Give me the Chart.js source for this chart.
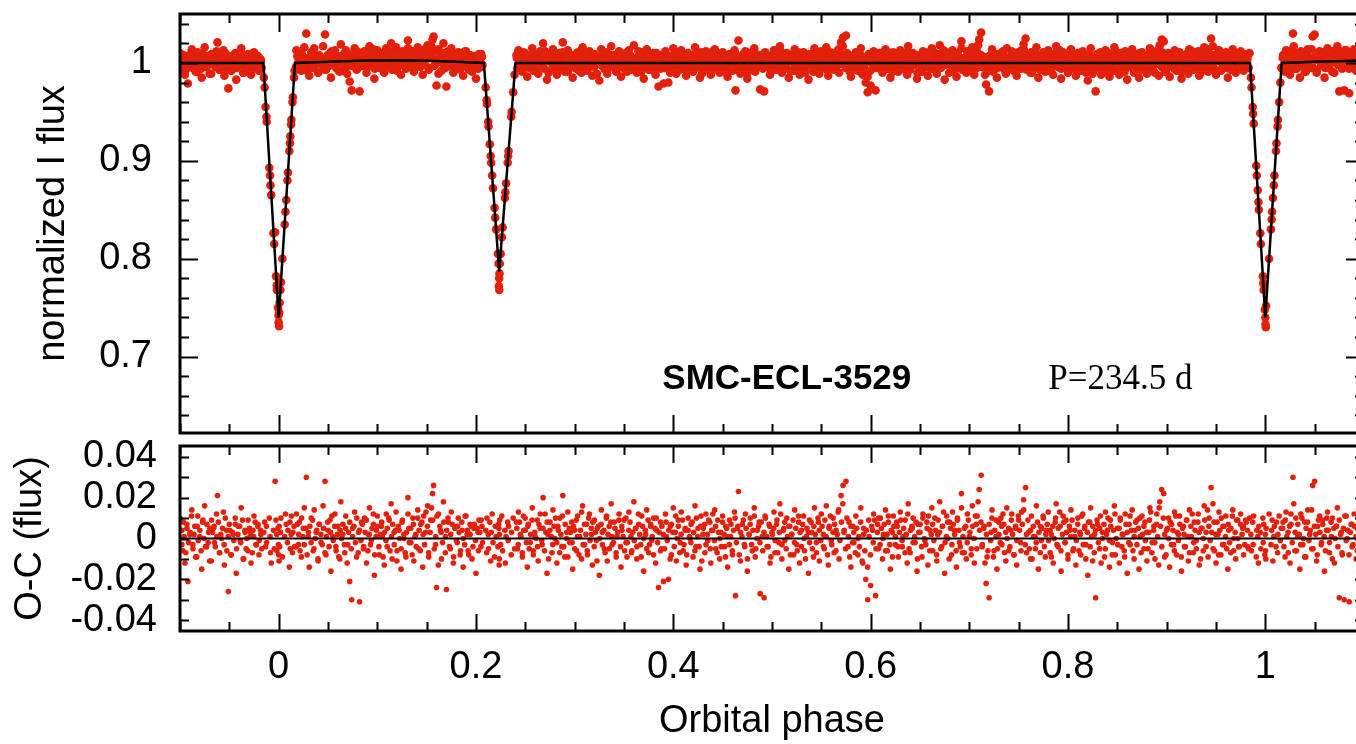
<!DOCTYPE html>
<html>
<head>
<meta charset="utf-8">
<script src="https://cdn.jsdelivr.net/npm/chart.js@4.4.0/dist/chart.umd.min.js"></script>
<style>
  html, body { margin: 0; padding: 0; background: #fff; overflow: hidden; }
  .wrap { position: relative; width: 1356px; height: 744px; overflow: hidden; background: #fff; }
  canvas { position: absolute; left: 0; }
  #fluxChart { top: 0; }
  #ocChart { top: 440px; }
</style>
</head>
<body>
<div class="wrap">
  <canvas id="fluxChart" width="1372" height="446"></canvas>
  <canvas id="ocChart" width="1372" height="304"></canvas>
</div>
<script>
// first group of observations: orbital phase, normalized flux, O-C
const phase = [
  -0.100,-0.098,-0.097,-0.095,-0.093,-0.092,-0.090,-0.088,-0.087,-0.085,
  -0.083,-0.082,-0.080,-0.078,-0.077,-0.075,-0.073,-0.071,-0.070,-0.068,
  -0.066,-0.065,-0.063,-0.062,-0.060,-0.058,-0.056,-0.055,-0.053,-0.051,
  -0.050,-0.048,-0.046,-0.044,-0.043,-0.041,-0.039,-0.038,-0.036,-0.034,
  -0.033,-0.031,-0.029,-0.028,-0.026,-0.025,-0.023,-0.021,-0.020,-0.018,
  -0.0150,-0.0142,-0.0133,-0.0124,-0.0121,-0.0095,-0.0087,-0.0083,-0.0075,-0.0053,
  -0.0045,-0.0027,-0.0019,-0.0018,-0.0036,-0.0007,-0.0002,0.0000,0.0004,0.0006,
  0.0010,0.0018,0.0023,0.0038,0.0061,0.0069,0.0077,0.0089,0.0094,0.0108,
  0.0114,0.0118,0.0126,0.0129,0.0140,0.0144,0.0156,0.0161,
  0.018,0.020,0.021,0.023,0.025,0.026,0.028,0.030,0.031,0.033,
  0.035,0.036,0.038,0.040,0.041,0.043,0.045,0.047,0.048,0.050,
  0.052,0.053,0.055,0.057,0.058,0.060,0.062,0.063,0.065,0.067,
  0.068,0.070,0.072,0.074,0.075,0.077,0.079,0.081,0.082,0.084,
  0.086,0.087,0.089,0.091,0.092,0.094,0.096,0.097,0.099,0.100,
  0.102,0.104,0.105,0.107,0.109,0.110,0.112,0.114,0.115,0.117,
  0.119,0.120,0.122,0.124,0.125,0.127,0.129,0.131,0.132,0.134,
  0.136,0.137,0.139,0.141,0.142,0.144,0.146,0.147,0.149,0.151,
  0.152,0.154,0.156,0.157,0.159,0.160,0.162,0.164,0.165,0.167,
  0.169,0.170,0.172,0.174,0.175,0.177,0.179,0.181,0.182,0.184,
  0.186,0.187,0.189,0.191,0.192,0.194,0.196,0.198,0.200,0.202,
  0.203,0.205,0.206,0.2098,0.2108,0.2111,0.2124,0.2127,0.2140,0.2149,
  0.2154,0.2164,0.2173,0.2188,0.2195,0.2204,0.2222,0.2229,0.2235,0.2232,
  0.2236,0.2238,0.2241,0.2250,0.2262,0.2270,0.2293,0.2298,0.2305,0.2321,
  0.2326,0.2330,0.2357,0.2361,0.2377,0.2391,0.241,0.242,0.243,0.245,
  0.247,0.248,0.250,0.252,0.253,0.255,0.257,0.258,0.260,0.262,
  0.263,0.265,0.267,0.268,0.270,0.272,0.273,0.275,0.277,0.278,
  0.280,0.282,0.283,0.285,0.287,0.288,0.290,0.292,0.293,0.295,
  0.297,0.298,0.300,0.302,0.303,0.305,0.307,0.308,0.310,0.312,
  0.313,0.315,0.317,0.318,0.320,0.322,0.323,0.325,0.327,0.328,
  0.330,0.332,0.333,0.335,0.337,0.338,0.340,0.342,0.343,0.345,
  0.347,0.348,0.350,0.352,0.353,0.355,0.357,0.358,0.360,0.362,
  0.363,0.365,0.367,0.368,0.370,0.372,0.373,0.375,0.377,0.378,
  0.380,0.382,0.383,0.385,0.387,0.388,0.390,0.392,0.393,0.395,
  0.397,0.398,0.400,0.402,0.403,0.405,0.407,0.408,0.410,0.412,
  0.413,0.415,0.417,0.418,0.420,0.422,0.423,0.425,0.427,0.428,
  0.430,0.432,0.433,0.435,0.437,0.438,0.440,0.442,0.443,0.445,
  0.447,0.448,0.450,0.452,0.453,0.455,0.457,0.458,0.460,0.462,
  0.463,0.465,0.466,0.468,0.470,0.472,0.473,0.475,0.477,0.478,
  0.480,0.482,0.483,0.485,0.487,0.488,0.490,0.492,0.493,0.495,
  0.497,0.498,0.500,0.502,0.503,0.505,0.507,0.508,0.510,0.512,
  0.513,0.515,0.517,0.518,0.520,0.522,0.523,0.525,0.527,0.528,
  0.530,0.532,0.533,0.535,0.537,0.538,0.540,0.542,0.543,0.545,
  0.547,0.548,0.550,0.552,0.553,0.555,0.557,0.558,0.560,0.562,
  0.563,0.565,0.567,0.568,0.570,0.572,0.573,0.575,0.577,0.578,
  0.580,0.582,0.583,0.585,0.587,0.588,0.590,0.592,0.593,0.595,
  0.597,0.598,0.600,0.602,0.603,0.605,0.607,0.608,0.610,0.612,
  0.613,0.615,0.617,0.618,0.620,0.622,0.623,0.625,0.627,0.628,
  0.630,0.632,0.633,0.635,0.637,0.638,0.640,0.642,0.643,0.645,
  0.647,0.648,0.650,0.652,0.653,0.655,0.657,0.658,0.660,0.662,
  0.663,0.665,0.667,0.668,0.670,0.672,0.673,0.675,0.677,0.678,
  0.680,0.682,0.683,0.685,0.687,0.688,0.690,0.692,0.693,0.695,
  0.697,0.698,0.700,0.702,0.703,0.705,0.707,0.708,0.710,0.712,
  0.713,0.715,0.717,0.718,0.720,0.722,0.723,0.725,0.727,0.728,
  0.730,0.732,0.733,0.735,0.737,0.738,0.740,0.742,0.743,0.745,
  0.747,0.748,0.750,0.752,0.753,0.755,0.757,0.758,0.760,0.762,
  0.763,0.765,0.767,0.768,0.770,0.772,0.773,0.775,0.777,0.778,
  0.780,0.782,0.783,0.785,0.787,0.788,0.790,0.792,0.793,0.795,
  0.797,0.798,0.800,0.802,0.803,0.805,0.807,0.808,0.810,0.812,
  0.813,0.815,0.817,0.818,0.820,0.822,0.823,0.825,0.827,0.828,
  0.830,0.832,0.833,0.835,0.837,0.838,0.840,0.842,0.843,0.845,
  0.847,0.848,0.850,0.852,0.853,0.855,0.857,0.858,0.860,0.862,
  0.863,0.865,0.867,0.868,0.870,0.872,0.873,0.875,0.877,0.878,
  0.880,0.882,0.883,0.885,0.887,0.888,0.890,0.892,0.893,0.895,
  0.897,0.898,0.900,0.902,0.903,0.905,0.907,0.908,0.910,0.912,
  0.913,0.915,0.917,0.918,0.920,0.922,0.923,0.925,0.927,0.928,
  0.930,0.932,0.933,0.935,0.937,0.938,0.940,0.942,0.943,0.945,
  0.947,0.948,0.950,0.952,0.953,0.955,0.957,0.958,0.960,0.962,
  0.963,0.965,0.967,0.968,0.970,0.972,0.973,0.975,0.977,0.978,
  0.980,0.982,0.9840,0.9854,0.9860,0.9872,0.9876,0.9882,0.9908,0.9914,
  0.9923,0.9930,0.9934,0.9949,0.9955,0.9975,0.9979,0.9983,0.9995,1.0000,
  1.0002,1.0005,1.0008,1.0038,1.0057,1.0064,1.0069,1.0077,1.0086,1.0092,
  1.0108,1.0113,1.0124,1.0128,1.0140,1.0152,1.0162,1.018,1.020,1.021,
  1.023,1.025,1.026,1.028,1.030,1.031,1.033,1.035,1.036,1.038,
  1.040,1.041,1.043,1.045,1.047,1.048,1.050,1.052,1.053,1.055,
  1.057,1.058,1.060,1.062,1.063,1.065,1.067,1.068,1.070,1.072,
  1.073,1.075,1.077,1.078,1.080,1.082,1.083,1.085,1.087,1.088,
  1.090,1.092,1.093,1.095,1.097,1.098,1.100
];

const flux = [
  1.010,1.004,0.994,0.988,1.007,0.979,1.002,1.014,0.997,1.006,
  0.991,1.011,1.001,0.985,1.008,1.016,0.996,1.003,0.989,1.009,
  1.005,0.998,1.012,1.021,0.993,1.000,1.013,0.987,1.004,0.974,
  1.007,0.992,1.002,1.010,0.983,1.006,0.999,1.015,0.990,1.003,
  0.995,1.009,1.001,0.988,1.004,1.011,0.997,1.007,0.992,1.002,
  0.985,0.975,0.955,0.945,0.940,0.893,0.885,0.875,0.865,0.826,
  0.815,0.782,0.773,0.768,0.827,0.750,0.742,0.735,0.731,0.745,
  0.755,0.768,0.776,0.800,0.835,0.848,0.860,0.880,0.888,0.910,
  0.918,0.925,0.937,0.942,0.960,0.965,0.985,0.992,
  1.013,0.998,1.009,0.992,1.006,1.016,1.030,1.002,0.987,1.011,
  0.995,1.015,1.004,0.990,1.008,0.999,1.017,1.029,0.993,1.005,
  1.010,0.985,1.002,1.013,0.997,1.007,0.991,1.019,1.003,0.994,
  1.013,0.999,0.981,0.972,1.007,1.015,0.993,1.005,0.971,1.010,
  0.997,1.012,0.990,1.004,1.017,1.001,1.009,0.984,1.006,1.013,
  0.995,1.009,1.004,0.990,1.015,0.999,1.012,1.020,0.993,1.006,
  1.016,0.997,1.007,0.988,1.011,1.003,0.994,1.023,1.008,1.001,
  1.012,0.991,1.004,1.016,0.997,1.009,0.988,1.013,1.005,1.018,
  0.995,1.011,1.024,1.027,0.999,0.977,1.014,1.006,0.992,1.020,
  1.003,0.976,1.010,0.997,1.015,0.990,1.008,1.000,1.011,0.993,
  1.005,0.987,1.012,1.003,0.995,1.008,0.991,1.006,0.984,1.004,
  1.009,0.996,1.006,0.975,0.962,0.958,0.940,0.935,0.917,0.905,
  0.898,0.885,0.872,0.852,0.842,0.830,0.805,0.795,0.780,0.772,
  0.768,0.785,0.795,0.805,0.822,0.832,0.862,0.868,0.877,0.898,
  0.905,0.910,0.945,0.950,0.970,0.988,1.008,0.995,1.013,1.002,
  0.991,1.011,1.004,0.986,1.007,0.998,1.015,0.994,1.001,1.009,
  0.989,1.005,0.997,1.020,1.012,0.983,1.002,1.008,0.993,1.014,
  1.000,0.988,1.006,1.010,0.996,1.021,0.991,1.003,1.013,0.998,
  1.008,0.985,1.004,0.994,1.011,1.001,0.990,1.016,0.997,1.007,
  0.992,1.012,1.002,0.987,1.009,0.999,1.005,0.982,1.014,1.003,
  0.995,1.010,0.989,1.006,1.017,0.997,1.008,0.993,1.001,1.012,
  0.986,1.004,1.009,0.998,0.991,1.013,1.001,0.994,1.018,1.005,
  0.990,1.007,0.997,1.011,0.984,1.002,1.014,0.993,1.006,0.999,
  1.010,0.988,1.004,0.976,1.008,0.995,0.979,1.012,1.001,0.980,
  1.006,0.992,1.015,1.003,0.989,1.009,0.998,1.013,0.994,1.004,
  0.987,1.010,1.000,1.007,0.991,1.016,0.996,1.005,0.985,1.011,
  1.002,0.993,1.012,0.999,1.008,0.988,1.004,1.014,0.995,1.009,
  0.990,1.003,1.011,0.996,1.006,0.986,1.009,1.001,0.992,1.013,
  0.972,1.005,1.023,0.989,1.007,0.997,1.012,0.984,1.002,1.010,
  0.994,1.015,0.991,1.004,1.008,0.973,1.001,0.971,1.011,0.996,
  1.007,0.988,1.003,1.013,0.993,1.009,0.998,1.017,0.990,1.005,
  0.999,1.010,0.985,1.006,1.002,0.992,1.014,0.997,1.008,0.988,
  1.004,1.011,0.994,1.001,0.983,1.009,1.003,0.991,1.015,0.998,
  1.008,0.989,1.012,1.002,0.995,1.016,0.987,1.006,0.999,1.010,
  0.993,1.004,1.013,0.990,1.021,1.026,1.003,1.028,0.996,1.008,
  0.986,1.006,0.998,1.011,0.992,1.001,1.015,0.988,1.005,0.980,
  0.970,1.009,0.977,1.004,1.012,0.972,1.007,0.995,1.010,0.990,
  1.002,1.014,0.994,1.008,0.985,1.003,1.011,0.997,1.006,0.991,
  1.013,0.996,1.001,1.009,0.988,1.017,0.993,1.005,1.010,0.998,
  0.984,1.007,1.003,0.991,1.012,0.999,1.008,0.987,1.004,1.015,
  0.994,1.010,0.989,1.002,1.018,0.996,1.006,0.983,1.011,1.000,
  1.008,0.992,1.013,1.004,0.986,1.009,0.998,1.022,0.993,1.005,
  0.990,1.012,1.001,0.995,1.016,0.988,1.007,1.011,1.024,1.031,
  0.996,1.006,0.978,0.991,0.971,1.003,1.014,0.994,1.009,0.985,
  1.002,1.010,0.997,1.007,0.989,1.015,0.994,1.004,1.012,0.992,
  1.005,0.987,1.009,0.998,1.013,1.019,1.025,0.993,1.003,0.990,
  1.011,1.001,0.995,1.016,0.985,1.006,0.999,1.010,0.991,1.004,
  1.013,0.993,1.002,0.988,1.008,1.017,0.996,1.006,0.984,1.011,
  0.998,1.009,0.990,1.004,1.014,0.994,1.001,0.987,1.010,1.003,
  0.992,1.012,1.006,0.997,0.982,1.008,1.015,0.989,1.002,0.971,
  1.007,0.995,1.011,1.000,0.991,1.013,1.004,0.986,1.009,0.998,
  1.016,0.992,1.005,0.988,1.010,1.002,0.994,1.012,0.983,1.007,
  0.997,1.014,0.990,1.004,1.009,0.985,1.001,1.011,0.995,1.008,
  0.989,1.003,1.015,0.993,1.006,0.998,1.012,0.987,1.018,1.024,
  1.022,0.991,1.004,1.010,0.986,1.007,0.997,1.013,0.992,1.002,
  1.011,0.984,1.006,0.996,1.009,0.989,1.014,1.001,0.993,1.008,
  0.999,1.012,0.987,1.005,0.994,1.016,1.003,0.991,1.010,1.025,
  0.995,1.008,0.988,1.002,1.013,0.992,1.006,0.997,1.011,0.985,
  1.004,0.993,1.014,1.000,0.990,1.009,0.996,1.012,1.005,0.992,
  1.009,0.996,1.010,0.985,0.975,0.955,0.948,0.938,0.895,0.885,
  0.870,0.858,0.850,0.826,0.815,0.782,0.775,0.768,0.748,0.740,
  0.733,0.730,0.752,0.800,0.830,0.840,0.848,0.862,0.875,0.885,
  0.910,0.918,0.935,0.942,0.960,0.980,0.995,1.008,0.991,1.013,
  1.003,0.988,1.007,1.030,0.994,1.010,1.001,0.985,1.012,0.997,
  1.008,0.991,1.014,1.002,0.995,1.027,1.029,0.990,1.007,1.012,
  0.999,1.011,0.985,1.006,1.015,0.995,1.003,1.012,0.990,1.008,
  1.017,0.971,1.005,0.994,0.972,1.013,1.002,0.969,1.009,0.998,
  1.014,0.992,1.007,0.999,1.011,0.988,1.004
];

const oc = [
  0.010,0.004,-0.006,-0.012,0.007,-0.021,0.002,0.014,-0.003,0.006,
  -0.009,0.011,0.001,-0.015,0.008,0.016,-0.004,0.003,-0.011,0.009,
  0.005,-0.002,0.012,0.021,-0.007,0.000,0.013,-0.013,0.004,-0.026,
  0.007,-0.008,0.002,0.010,-0.017,0.006,-0.001,0.015,-0.010,0.003,
  -0.005,0.009,0.001,-0.012,0.004,0.011,-0.003,0.007,-0.008,0.002,
  0.003,0.008,-0.004,0.006,-0.002,0.010,0.001,-0.007,-0.012,0.004,
  -0.005,0.009,0.002,-0.006,0.028,0.005,-0.003,-0.008,-0.011,0.006,
  -0.004,0.003,0.010,-0.009,0.001,0.012,0.007,-0.002,0.004,-0.014,
  0.008,-0.005,0.002,0.011,-0.007,0.003,0.006,-0.004,
  0.012,-0.003,0.008,-0.009,0.005,0.015,0.030,0.001,-0.014,0.010,
  -0.006,0.014,0.003,-0.011,0.007,-0.002,0.016,0.028,-0.008,0.004,
  0.009,-0.016,0.001,0.012,-0.004,0.006,-0.010,0.018,0.002,-0.007,
  0.011,-0.003,-0.021,-0.030,0.005,0.013,-0.009,0.003,-0.031,0.008,
  -0.005,0.010,-0.012,0.002,0.015,-0.001,0.007,-0.018,0.004,0.011,
  -0.008,0.006,0.001,-0.013,0.012,-0.004,0.009,0.017,-0.010,0.003,
  0.013,-0.006,0.004,-0.015,0.008,0.000,-0.009,0.020,0.005,-0.002,
  0.010,-0.011,0.002,0.014,-0.005,0.007,-0.014,0.011,0.003,0.016,
  -0.007,0.009,0.022,0.026,-0.003,-0.024,0.012,0.004,-0.010,0.018,
  0.001,-0.025,0.008,-0.005,0.013,-0.012,0.006,-0.002,0.010,-0.008,
  0.004,-0.014,0.011,0.002,-0.006,0.007,-0.010,0.005,-0.017,0.003,
  0.009,-0.004,0.006,0.004,-0.007,0.010,0.002,-0.005,0.008,-0.011,
  0.003,0.012,-0.002,-0.009,0.006,0.001,-0.004,0.007,-0.013,0.005,
  -0.010,0.002,0.009,-0.003,0.011,-0.006,0.004,-0.012,0.001,0.008,
  -0.001,0.006,-0.008,0.003,0.010,-0.005,0.008,-0.005,0.013,0.002,
  -0.009,0.011,0.004,-0.014,0.007,-0.002,0.015,-0.006,0.001,0.009,
  -0.011,0.005,-0.003,0.020,0.012,-0.017,0.002,0.008,-0.007,0.014,
  0.000,-0.012,0.006,0.010,-0.004,0.021,-0.009,0.003,0.013,-0.002,
  0.008,-0.015,0.004,-0.006,0.011,0.001,-0.010,0.016,-0.003,0.007,
  -0.008,0.012,0.002,-0.013,0.009,-0.001,0.005,-0.018,0.014,0.003,
  -0.005,0.010,-0.011,0.006,0.017,-0.003,0.008,-0.007,0.001,0.012,
  -0.014,0.004,0.009,-0.002,-0.009,0.013,0.001,-0.006,0.018,0.005,
  -0.010,0.007,-0.003,0.011,-0.016,0.002,0.014,-0.007,0.006,-0.001,
  0.010,-0.012,0.004,-0.024,0.008,-0.005,-0.021,0.012,0.001,-0.020,
  0.006,-0.008,0.015,0.003,-0.011,0.009,-0.002,0.013,-0.006,0.004,
  -0.013,0.010,0.000,0.007,-0.009,0.016,-0.004,0.005,-0.015,0.011,
  0.002,-0.007,0.012,-0.001,0.008,-0.012,0.004,0.014,-0.005,0.009,
  -0.010,0.003,0.011,-0.004,0.006,-0.014,0.009,0.001,-0.008,0.013,
  -0.028,0.005,0.023,-0.011,0.007,-0.003,0.012,-0.016,0.002,0.010,
  -0.006,0.015,-0.009,0.004,0.008,-0.027,0.001,-0.029,0.011,-0.004,
  0.007,-0.012,0.003,0.013,-0.007,0.009,-0.002,0.017,-0.010,0.005,
  -0.001,0.010,-0.015,0.006,0.002,-0.008,0.014,-0.003,0.008,-0.012,
  0.004,0.011,-0.006,0.001,-0.017,0.009,0.003,-0.009,0.015,-0.002,
  0.008,-0.011,0.012,0.002,-0.005,0.016,-0.013,0.006,-0.001,0.010,
  -0.007,0.004,0.013,-0.010,0.021,0.026,0.003,0.028,-0.004,0.008,
  -0.014,0.006,-0.002,0.011,-0.008,0.001,0.015,-0.012,0.005,-0.020,
  -0.030,0.009,-0.023,0.004,0.012,-0.028,0.007,-0.005,0.010,-0.010,
  0.002,0.014,-0.006,0.008,-0.015,0.003,0.011,-0.003,0.006,-0.009,
  0.013,-0.004,0.001,0.009,-0.012,0.017,-0.007,0.005,0.010,-0.002,
  -0.016,0.007,0.003,-0.009,0.012,-0.001,0.008,-0.013,0.004,0.015,
  -0.006,0.010,-0.011,0.002,0.018,-0.004,0.006,-0.017,0.011,0.000,
  0.008,-0.008,0.013,0.004,-0.014,0.009,-0.002,0.022,-0.007,0.005,
  -0.010,0.012,0.001,-0.005,0.016,-0.012,0.007,0.011,0.024,0.031,
  -0.004,0.006,-0.022,-0.009,-0.029,0.003,0.014,-0.006,0.009,-0.015,
  0.002,0.010,-0.003,0.007,-0.011,0.015,-0.006,0.004,0.012,-0.008,
  0.005,-0.013,0.009,-0.002,0.013,0.019,0.025,-0.007,0.003,-0.010,
  0.011,0.001,-0.005,0.016,-0.015,0.006,-0.001,0.010,-0.009,0.004,
  0.013,-0.007,0.002,-0.012,0.008,0.017,-0.004,0.006,-0.016,0.011,
  -0.002,0.009,-0.010,0.004,0.014,-0.006,0.001,-0.013,0.010,0.003,
  -0.008,0.012,0.006,-0.003,-0.018,0.008,0.015,-0.011,0.002,-0.029,
  0.007,-0.005,0.011,0.000,-0.009,0.013,0.004,-0.014,0.009,-0.002,
  0.016,-0.008,0.005,-0.012,0.010,0.002,-0.006,0.012,-0.017,0.007,
  -0.003,0.014,-0.010,0.004,0.009,-0.015,0.001,0.011,-0.005,0.008,
  -0.011,0.003,0.015,-0.007,0.006,-0.002,0.012,-0.013,0.018,0.024,
  0.022,-0.009,0.004,0.010,-0.014,0.007,-0.003,0.013,-0.008,0.002,
  0.011,-0.016,0.006,-0.004,0.009,-0.011,0.014,0.001,-0.007,0.008,
  -0.001,0.012,-0.013,0.005,-0.006,0.016,0.003,-0.009,0.010,0.025,
  -0.005,0.008,-0.012,0.002,0.013,-0.008,0.006,-0.003,0.011,-0.015,
  0.004,-0.007,0.014,0.000,-0.010,0.009,-0.004,0.012,0.005,-0.008,
  0.009,-0.004,0.010,0.002,-0.006,0.008,-0.003,0.011,-0.009,0.004,
  0.001,-0.012,0.006,0.003,-0.005,0.010,-0.002,0.007,-0.008,0.002,
  -0.006,-0.010,0.005,0.012,-0.003,0.004,0.009,-0.011,0.001,0.006,
  -0.004,0.008,-0.007,0.002,0.011,-0.001,0.005,0.008,-0.009,0.013,
  0.003,-0.012,0.007,0.030,-0.006,0.010,0.001,-0.015,0.012,-0.003,
  0.008,-0.009,0.014,0.002,-0.005,0.026,0.028,-0.011,0.006,0.011,
  -0.002,0.009,-0.016,0.004,0.013,-0.007,0.001,0.010,-0.012,0.006,
  0.015,-0.029,0.003,-0.008,-0.030,0.011,0.000,-0.031,0.007,-0.004,
  0.012,-0.010,0.005,-0.003,0.009,-0.014,0.002
];

// second group of observations (out of eclipse)
const phaseB = [
  -0.0994,-0.0981,-0.0966,-0.0958,-0.0941,-0.0929,-0.0913,-0.0897,-0.0884,-0.0869,
  -0.0858,-0.0841,-0.0826,-0.0815,-0.0799,-0.0786,-0.0768,-0.0755,-0.0742,-0.0728,
  -0.0714,-0.0697,-0.0683,-0.0671,-0.0654,-0.0642,-0.0627,-0.0611,-0.0598,-0.0586,
  -0.0569,-0.0553,-0.0541,-0.0525,-0.0512,-0.0497,-0.0484,-0.0468,-0.0455,-0.0439,
  -0.0426,-0.0413,-0.0396,-0.0384,-0.0367,-0.0354,-0.0341,-0.0325,-0.0312,-0.0296,
  -0.0283,-0.0267,-0.0254,-0.0238,-0.0226,-0.0211,-0.0197,-0.0184,-0.0172,
  0.0176,0.0189,0.0203,0.0217,0.0232,0.0246,0.0259,0.0273,0.0288,0.0302,
  0.0316,0.0329,0.0344,0.0358,0.0371,0.0386,0.0399,0.0413,0.0428,0.0442,
  0.0455,0.0469,0.0484,0.0497,0.0511,0.0526,0.0539,0.0553,0.0567,0.0582,
  0.0596,0.0609,0.0623,0.0638,0.0651,0.0666,0.0679,0.0694,0.0708,0.0721,
  0.0736,0.0749,0.0763,0.0778,0.0792,0.0806,0.0819,0.0834,0.0848,0.0861,
  0.0876,0.0889,0.0904,0.0918,0.0931,0.0946,0.0959,0.0973,0.0988,
  0.1002,0.1016,0.1031,0.1044,0.1058,0.1073,0.1087,0.1101,0.1114,0.1129,
  0.1143,0.1156,0.1171,0.1185,0.1198,0.1213,0.1227,0.1241,0.1254,0.1269,
  0.1283,0.1296,0.1311,0.1324,0.1339,0.1353,0.1366,0.1381,0.1394,0.1409,
  0.1423,0.1436,0.1451,0.1464,0.1479,0.1493,0.1507,0.1521,0.1535,0.1549,
  0.1562,0.1577,0.1591,0.1604,0.1619,0.1633,0.1646,0.1661,0.1674,0.1689,
  0.1703,0.1716,0.1731,0.1744,0.1759,0.1773,0.1786,0.1801,0.1814,0.1829,
  0.1843,0.1856,0.1871,0.1885,0.1898,0.1913,0.1927,0.1941,0.1954,0.1969,
  0.1983,0.1996,0.2011,0.2024,0.2039,0.2053,0.2066,
  0.2414,0.2428,0.2441,0.2456,0.2469,0.2484,0.2498,0.2511,0.2526,0.2539,
  0.2554,0.2568,0.2581,0.2596,0.2609,0.2624,0.2638,0.2651,0.2666,0.2679,
  0.2694,0.2708,0.2721,0.2736,0.2749,0.2764,0.2778,0.2791,0.2806,0.2819,
  0.2834,0.2848,0.2861,0.2876,0.2889,0.2904,0.2918,0.2931,0.2946,0.2959,
  0.2974,0.2988,0.3001,0.3016,0.3029,0.3044,0.3058,0.3071,0.3086,0.3099,
  0.3114,0.3128,0.3141,0.3156,0.3169,0.3184,0.3198,0.3211,0.3226,0.3239,
  0.3254,0.3268,0.3281,0.3296,0.3309,0.3324,0.3338,0.3351,0.3366,0.3379,
  0.3394,0.3408,0.3421,0.3436,0.3449,0.3464,
  0.3478,0.3491,0.3506,0.3519,0.3534,0.3548,0.3561,0.3576,0.3589,0.3604,
  0.3618,0.3631,0.3646,0.3659,0.3674,0.3688,0.3701,0.3716,0.3729,0.3744,
  0.3758,0.3771,0.3786,0.3799,0.3814,0.3828,0.3841,0.3856,0.3869,0.3884,
  0.3898,0.3911,0.3926,0.3939,0.3954,0.3968,0.3981,0.3996,0.4009,0.4024,
  0.4038,0.4051,0.4066,0.4079,0.4094,0.4108,0.4121,0.4136,0.4149,0.4164,
  0.4178,0.4191,0.4206,0.4219,0.4234,0.4248,0.4261,0.4276,0.4289,0.4304,
  0.4318,0.4331,0.4346,0.4359,0.4374,0.4388,0.4401,0.4416,0.4429,0.4444,
  0.4458,0.4471,0.4486,0.4499,0.4514,0.4528,0.4541,0.4556,0.4569,0.4584,
  0.4598,0.4611,0.4626,0.4639,0.4654,0.4668,0.4681,0.4696,0.4709,0.4724,
  0.4738,0.4751,0.4766,0.4779,0.4794,0.4808,0.4821,0.4836,0.4849,0.4864,
  0.4878,0.4891,0.4906,0.4919,0.4934,0.4948,0.4961,0.4976,0.4989,0.5004,
  0.5018,0.5031,0.5046,0.5059,0.5074,0.5088,0.5101,0.5116,0.5129,0.5144,
  0.5158,0.5171,0.5186,0.5199,0.5214,0.5228,0.5241,0.5256,0.5269,0.5284,
  0.5298,0.5311,0.5326,0.5339,0.5354,0.5368,0.5381,0.5396,0.5409,0.5424,
  0.5438,0.5451,0.5466,0.5479,0.5494,0.5508,0.5521,0.5536,0.5549,0.5564,
  0.5578,0.5591,0.5606,0.5619,0.5634,0.5648,0.5661,0.5676,0.5689,0.5704,
  0.5718,0.5731,0.5746,0.5759,0.5774,0.5788,0.5801,0.5816,0.5829,0.5844,
  0.5858,0.5871,0.5886,0.5899,0.5914,0.5928,0.5941,0.5956,0.5969,0.5984,
  0.5998,0.6011,0.6026,0.6039,0.6054,0.6068,0.6081,0.6096,0.6109,0.6124,
  0.6138,0.6151,0.6166,0.6179,0.6194,0.6208,0.6221,0.6236,0.6249,0.6264,
  0.6278,0.6291,0.6306,0.6319,0.6334,0.6348,0.6361,0.6376,0.6389,0.6404,
  0.6418,0.6431,0.6446,0.6459,0.6474,0.6488,0.6501,0.6516,0.6529,0.6544,
  0.6558,0.6571,0.6586,0.6599,0.6614,0.6628,0.6641,0.6656,0.6669,0.6684,
  0.6698,0.6711,0.6726,0.6739,0.6754,0.6768,0.6781,0.6796,0.6809,0.6824,
  0.6838,0.6851,0.6866,0.6879,0.6894,0.6908,0.6921,0.6936,0.6949,0.6964,
  0.6978,0.6991,0.7006,0.7019,0.7034,0.7048,0.7061,0.7076,0.7089,0.7104,
  0.7118,0.7131,0.7146,0.7159,0.7174,0.7188,0.7201,0.7216,0.7229,0.7244,
  0.7258,0.7271,0.7286,0.7299,0.7314,0.7328,0.7341,0.7356,0.7369,0.7384,
  0.7398,0.7411,0.7426,0.7439,0.7454,0.7468,0.7481,0.7496,0.7509,0.7524,
  0.7538,0.7551,0.7566,0.7579,0.7594,0.7608,0.7621,0.7636,0.7649,0.7664,
  0.7678,0.7691,0.7706,0.7719,0.7734,0.7748,0.7761,0.7776,0.7789,0.7804,
  0.7818,0.7831,0.7846,0.7859,0.7874,0.7888,0.7901,0.7916,0.7929,0.7944,
  0.7958,0.7971,0.7986,0.7999,0.8014,0.8028,0.8041,0.8056,0.8069,0.8084,
  0.8098,0.8111,0.8126,0.8139,0.8154,0.8168,0.8181,0.8196,0.8209,0.8224,
  0.8238,0.8251,0.8266,0.8279,0.8294,0.8308,0.8321,0.8336,0.8349,0.8364,
  0.8378,0.8391,0.8406,0.8419,0.8434,0.8448,0.8461,0.8476,0.8489,0.8504,
  0.8518,0.8531,0.8546,0.8559,0.8574,0.8588,0.8601,0.8616,0.8629,0.8644,
  0.8658,0.8671,0.8686,0.8699,0.8714,0.8728,0.8741,0.8756,0.8769,0.8784,
  0.8798,0.8811,0.8826,0.8839,0.8854,0.8868,0.8881,0.8896,0.8909,0.8924,
  0.8938,0.8951,0.8966,0.8979,0.8994,0.9008,0.9021,0.9036,0.9049,0.9064,
  0.9078,0.9091,0.9106,0.9119,0.9134,0.9148,0.9161,0.9176,0.9189,0.9204,
  0.9218,0.9231,0.9246,0.9259,0.9274,0.9288,0.9301,0.9316,0.9329,0.9344,
  0.9358,0.9371,0.9386,0.9399,0.9414,0.9428,0.9441,0.9456,0.9469,0.9484,
  0.9498,0.9511,0.9526,0.9539,0.9554,0.9568,0.9581,0.9596,0.9609,0.9624,
  0.9638,0.9651,0.9666,0.9679,0.9694,0.9708,0.9721,0.9736,0.9749,0.9764,
  0.9778,0.9791,0.9806,0.9819,0.9831,
  1.0176,1.0189,1.0203,1.0217,1.0232,1.0246,1.0259,1.0273,1.0288,1.0302,
  1.0316,1.0329,1.0344,1.0358,1.0371,1.0386,1.0399,1.0413,1.0428,1.0442,
  1.0455,1.0469,1.0484,1.0497,1.0511,1.0526,1.0539,1.0553,1.0567,1.0582,
  1.0596,1.0609,1.0623,1.0638,1.0651,1.0666,1.0679,1.0694,1.0708,1.0721,
  1.0736,1.0749,1.0763,1.0778,1.0792,1.0806,1.0819,1.0834,1.0848,1.0861,
  1.0876,1.0889,1.0904,1.0918,1.0931,1.0946,1.0959,1.0973,1.0988
];

const fluxB = [
  1.004,0.997,1.008,1.001,0.993,1.005,0.998,1.003,1.011,0.995,
  1.002,0.991,1.006,0.999,1.004,0.994,1.009,1.000,0.996,1.007,
  0.998,1.005,0.989,1.003,1.006,0.996,1.001,1.008,0.993,1.002,
  1.005,0.997,1.010,0.994,1.001,1.004,0.992,1.003,0.999,1.007,
  0.995,1.002,1.006,0.998,1.009,0.990,1.004,1.000,0.994,1.005,
  1.003,0.993,1.001,1.008,0.997,1.006,0.999,1.004,0.995,
  0.996,1.007,1.002,0.994,1.010,1.001,0.997,1.005,0.992,1.003,
  1.006,0.998,1.009,0.995,1.000,1.004,0.990,1.007,1.002,0.997,
  1.005,0.993,1.001,1.008,0.997,1.004,1.012,1.000,1.007,0.995,
  1.003,0.992,1.005,1.001,1.008,0.998,1.006,0.989,1.004,1.009,
  0.997,1.003,1.008,1.000,1.012,0.995,1.006,1.001,1.009,0.998,
  1.005,1.011,0.996,1.004,0.999,1.007,1.014,0.994,1.003,
  1.008,0.998,1.004,1.010,0.993,1.005,1.001,1.007,1.012,0.996,
  1.004,1.010,1.000,1.007,0.992,1.009,1.003,0.998,1.012,1.005,
  0.996,1.006,1.015,1.001,1.008,0.995,1.010,1.004,0.999,1.012,
  1.006,0.996,1.010,1.004,0.999,1.015,1.008,0.993,1.005,1.017,
  1.011,0.997,1.003,1.013,0.989,1.008,1.005,1.000,1.010,0.995,
  1.006,1.012,0.998,1.004,1.009,0.993,1.007,1.001,1.008,1.005,
  0.995,1.009,1.001,0.998,1.012,1.005,0.993,1.003,1.007,0.997,
  1.007,0.999,1.005,0.994,1.003,1.009,0.998,
  1.005,0.997,1.008,1.001,0.993,1.004,1.010,0.998,1.006,0.995,
  1.002,1.009,0.992,1.003,1.000,0.996,1.007,1.012,0.999,1.005,
  0.994,1.003,1.008,0.990,1.004,1.001,0.997,1.006,1.010,0.998,
  1.004,0.993,1.002,1.011,0.996,1.007,1.000,0.991,1.005,1.003,
  0.998,1.006,0.995,1.009,1.001,0.992,1.004,1.013,0.997,1.007,
  1.002,0.994,1.010,0.999,1.005,1.008,0.996,1.003,0.989,1.006,
  1.000,1.007,0.997,1.004,0.993,1.011,1.002,0.995,1.008,1.001,
  0.998,1.005,0.991,1.003,1.009,0.996,
  1.006,1.001,0.994,1.010,0.998,1.004,1.008,0.993,1.003,0.999,
  1.005,0.996,1.012,1.002,0.991,1.006,1.000,1.004,0.995,1.009,
  0.997,1.007,1.001,0.992,1.005,1.010,0.998,1.003,0.994,1.006,
  1.002,0.995,1.008,0.999,1.004,0.990,1.007,1.003,0.996,1.011,
  1.000,1.006,0.993,1.002,1.009,0.997,1.005,0.992,1.004,1.001,
  0.998,1.008,1.003,0.994,1.010,1.001,0.996,1.006,0.989,1.005,
  1.007,0.997,1.002,1.009,0.995,1.004,1.012,0.999,1.006,0.993,
  1.003,1.000,0.996,1.008,1.002,0.991,1.005,1.001,0.997,1.007,
  0.994,1.004,1.010,0.998,1.006,0.992,1.003,1.001,1.009,0.996,
  1.005,0.990,1.002,1.007,0.997,1.004,1.011,0.995,1.000,1.006,
  0.998,1.008,0.994,1.003,1.010,1.001,0.996,1.006,0.991,1.002,
  1.005,0.999,1.007,0.993,1.003,1.012,0.997,1.004,1.008,0.995,
  1.001,1.006,0.992,1.002,1.009,0.998,1.005,0.994,1.011,1.003,
  0.996,1.007,1.000,0.990,1.005,1.003,0.998,1.008,0.995,1.006,
  1.002,0.993,1.010,1.004,0.999,1.006,0.996,1.009,1.001,0.992,
  1.005,1.011,0.997,1.003,1.007,0.994,1.002,1.014,0.999,1.008,
  1.017,1.004,0.995,1.010,1.001,0.991,1.006,0.998,1.003,0.993,
  1.005,1.000,0.996,1.008,0.989,1.002,0.994,1.004,0.986,1.001,
  0.992,1.006,0.998,1.009,0.995,1.003,1.010,0.997,1.005,1.000,
  1.007,0.994,1.002,1.011,0.997,1.004,0.991,1.006,1.001,1.008,
  0.996,1.003,1.009,0.999,1.005,0.993,1.002,1.012,0.995,1.004,
  1.006,0.998,1.001,1.008,0.990,1.003,1.007,0.996,1.010,1.000,
  0.997,1.005,1.011,0.994,1.002,1.007,0.999,1.004,0.992,1.009,
  1.003,0.995,1.006,1.013,0.998,1.001,1.008,0.990,1.005,0.997,
  1.007,1.002,0.994,1.010,1.004,0.996,1.015,1.001,0.993,1.006,
  0.998,1.009,1.003,0.992,1.006,1.000,1.011,0.995,1.018,1.004,
  1.008,0.997,1.005,0.988,1.002,0.994,1.007,0.999,1.010,0.991,
  1.004,1.001,0.995,1.008,0.998,1.006,1.012,0.993,1.003,1.000,
  1.005,0.996,1.009,1.002,0.992,1.006,0.999,1.011,1.004,0.994,
  1.007,1.014,0.997,1.002,1.009,0.995,1.004,0.990,1.006,1.001,
  0.998,1.008,1.003,0.993,1.005,1.011,0.996,1.002,1.007,0.999,
  1.004,0.991,1.006,1.000,1.010,0.997,1.005,1.013,0.994,1.002,
  1.008,0.998,1.003,0.992,1.006,1.001,1.009,0.995,1.004,0.999,
  1.007,0.994,1.002,1.011,0.997,1.005,0.990,1.003,1.008,0.996,
  1.001,1.006,0.993,1.004,1.009,0.998,1.005,0.988,1.003,1.007,
  0.995,1.002,1.010,0.999,1.006,0.992,1.004,1.012,1.000,0.997,
  1.005,1.009,0.996,1.002,0.991,1.007,1.003,0.998,1.011,1.004,
  0.994,1.001,1.008,0.997,1.005,1.010,0.993,1.002,1.006,0.999,
  1.003,0.995,1.009,1.013,0.998,1.004,0.990,1.007,1.001,1.015,
  1.006,0.996,1.010,1.002,0.992,1.005,1.000,1.008,0.997,1.004,
  0.994,1.011,1.003,0.999,1.007,0.991,1.005,1.002,0.996,1.009,
  1.001,0.993,1.006,1.012,0.998,1.004,0.995,1.008,1.003,0.990,
  1.005,1.000,1.009,0.996,1.014,1.006,0.999,1.003,1.017,0.994,
  1.002,1.008,0.992,1.004,1.010,0.997,1.006,1.001,0.995,1.007,
  0.998,1.005,1.011,0.994,1.003,1.009,1.000,0.996,1.007,1.002,
  1.006,0.997,1.008,1.004,0.995,
  1.005,0.996,1.009,1.001,0.993,1.006,1.012,0.998,1.017,1.003,
  0.994,1.007,1.002,0.997,1.010,1.000,0.991,1.005,1.008,0.999,
  1.004,1.014,0.995,1.006,1.003,0.993,1.010,1.004,0.998,1.008,
  1.002,0.995,1.011,1.005,0.999,1.009,0.991,1.006,1.001,1.007,
  0.998,1.011,1.004,0.995,1.007,1.013,1.001,1.006,0.994,1.005,
  1.009,0.999,1.008,1.003,0.996,1.012,1.005,1.000,1.007
];

const ocB = [
  0.004,-0.003,0.008,0.001,-0.007,0.005,-0.002,0.003,0.011,-0.005,
  0.002,-0.009,0.006,-0.001,0.004,-0.006,0.009,0.000,-0.004,0.007,
  -0.002,0.005,-0.011,0.003,0.006,-0.004,0.001,0.008,-0.007,0.002,
  0.005,-0.003,0.010,-0.006,0.001,0.004,-0.008,0.003,-0.001,0.007,
  -0.005,0.002,0.006,-0.002,0.009,-0.010,0.004,0.000,-0.006,0.005,
  0.003,-0.007,0.001,0.008,-0.003,0.006,-0.001,0.004,-0.005,
  -0.004,0.007,0.002,-0.006,0.010,0.001,-0.003,0.005,-0.008,0.003,
  0.006,-0.002,0.009,-0.005,0.000,0.004,-0.010,0.007,0.002,-0.003,
  0.005,-0.007,0.001,0.008,-0.004,0.003,0.011,-0.001,0.006,-0.006,
  0.002,-0.009,0.004,0.000,0.007,-0.003,0.005,-0.012,0.003,0.008,
  -0.005,0.001,0.006,-0.002,0.010,-0.007,0.004,-0.001,0.007,-0.004,
  0.003,0.009,-0.006,0.002,-0.003,0.005,0.012,-0.008,0.001,
  0.006,-0.004,0.002,0.008,-0.009,0.003,-0.001,0.005,0.010,-0.006,
  0.001,0.007,-0.003,0.004,-0.011,0.006,0.000,-0.005,0.009,0.002,
  -0.007,0.003,0.012,-0.002,0.005,-0.008,0.007,0.001,-0.004,0.010,
  0.004,-0.006,0.008,0.002,-0.003,0.013,0.006,-0.009,0.003,0.015,
  0.009,-0.005,0.001,0.011,-0.013,0.006,0.003,-0.002,0.008,-0.007,
  0.004,0.010,-0.004,0.002,0.007,-0.009,0.005,-0.001,0.006,0.003,
  -0.006,0.008,0.000,-0.003,0.011,0.004,-0.008,0.002,0.006,-0.004,
  0.007,-0.001,0.005,-0.006,0.003,0.009,-0.002,
  0.005,-0.003,0.008,0.001,-0.007,0.004,0.010,-0.002,0.006,-0.005,
  0.002,0.009,-0.008,0.003,0.000,-0.004,0.007,0.012,-0.001,0.005,
  -0.006,0.003,0.008,-0.010,0.004,0.001,-0.003,0.006,0.010,-0.002,
  0.004,-0.007,0.002,0.011,-0.004,0.007,0.000,-0.009,0.005,0.003,
  -0.002,0.006,-0.005,0.009,0.001,-0.008,0.004,0.013,-0.003,0.007,
  0.002,-0.006,0.010,-0.001,0.005,0.008,-0.004,0.003,-0.011,0.006,
  0.000,0.007,-0.003,0.004,-0.007,0.011,0.002,-0.005,0.008,0.001,
  -0.002,0.005,-0.009,0.003,0.009,-0.004,
  0.006,0.001,-0.006,0.010,-0.002,0.004,0.008,-0.007,0.003,-0.001,
  0.005,-0.004,0.012,0.002,-0.009,0.006,0.000,0.004,-0.005,0.009,
  -0.003,0.007,0.001,-0.008,0.005,0.010,-0.002,0.003,-0.006,0.006,
  0.002,-0.005,0.008,-0.001,0.004,-0.010,0.007,0.003,-0.004,0.011,
  0.000,0.006,-0.007,0.002,0.009,-0.003,0.005,-0.008,0.004,0.001,
  -0.002,0.008,0.003,-0.006,0.010,0.001,-0.004,0.006,-0.011,0.005,
  0.007,-0.003,0.002,0.009,-0.005,0.004,0.012,-0.001,0.006,-0.007,
  0.003,0.000,-0.004,0.008,0.002,-0.009,0.005,0.001,-0.003,0.007,
  -0.006,0.004,0.010,-0.002,0.006,-0.008,0.003,0.001,0.009,-0.004,
  0.005,-0.010,0.002,0.007,-0.003,0.004,0.011,-0.005,0.000,0.006,
  -0.002,0.008,-0.006,0.003,0.010,0.001,-0.004,0.006,-0.009,0.002,
  0.005,-0.001,0.007,-0.007,0.003,0.012,-0.003,0.004,0.008,-0.005,
  0.001,0.006,-0.008,0.002,0.009,-0.002,0.005,-0.006,0.011,0.003,
  -0.004,0.007,0.000,-0.010,0.005,0.003,-0.002,0.008,-0.005,0.006,
  0.002,-0.007,0.010,0.004,-0.001,0.006,-0.004,0.009,0.001,-0.008,
  0.005,0.011,-0.003,0.003,0.007,-0.006,0.002,0.014,-0.001,0.008,
  0.017,0.004,-0.005,0.010,0.001,-0.009,0.006,-0.002,0.003,-0.007,
  0.005,0.000,-0.004,0.008,-0.011,0.002,-0.006,0.004,-0.014,0.001,
  -0.008,0.006,-0.002,0.009,-0.005,0.003,0.010,-0.003,0.005,0.000,
  0.007,-0.006,0.002,0.011,-0.003,0.004,-0.009,0.006,0.001,0.008,
  -0.004,0.003,0.009,-0.001,0.005,-0.007,0.002,0.012,-0.005,0.004,
  0.006,-0.002,0.001,0.008,-0.010,0.003,0.007,-0.004,0.010,0.000,
  -0.003,0.005,0.011,-0.006,0.002,0.007,-0.001,0.004,-0.008,0.009,
  0.003,-0.005,0.006,0.013,-0.002,0.001,0.008,-0.010,0.005,-0.003,
  0.007,0.002,-0.006,0.010,0.004,-0.004,0.015,0.001,-0.007,0.006,
  -0.002,0.009,0.003,-0.008,0.006,0.000,0.011,-0.005,0.018,0.004,
  0.008,-0.003,0.005,-0.012,0.002,-0.006,0.007,-0.001,0.010,-0.009,
  0.004,0.001,-0.005,0.008,-0.002,0.006,0.012,-0.007,0.003,0.000,
  0.005,-0.004,0.009,0.002,-0.008,0.006,-0.001,0.011,0.004,-0.006,
  0.007,0.014,-0.003,0.002,0.009,-0.005,0.004,-0.010,0.006,0.001,
  -0.002,0.008,0.003,-0.007,0.005,0.011,-0.004,0.002,0.007,-0.001,
  0.004,-0.009,0.006,0.000,0.010,-0.003,0.005,0.013,-0.006,0.002,
  0.008,-0.002,0.003,-0.008,0.006,0.001,0.009,-0.005,0.004,-0.001,
  0.007,-0.006,0.002,0.011,-0.003,0.005,-0.010,0.003,0.008,-0.004,
  0.001,0.006,-0.007,0.004,0.009,-0.002,0.005,-0.012,0.003,0.007,
  -0.005,0.002,0.010,-0.001,0.006,-0.008,0.004,0.012,0.000,-0.003,
  0.005,0.009,-0.004,0.002,-0.009,0.007,0.003,-0.002,0.011,0.004,
  -0.006,0.001,0.008,-0.003,0.005,0.010,-0.007,0.002,0.006,-0.001,
  0.003,-0.005,0.009,0.013,-0.002,0.004,-0.010,0.007,0.001,0.015,
  0.006,-0.004,0.010,0.002,-0.008,0.005,0.000,0.008,-0.003,0.004,
  -0.006,0.011,0.003,-0.001,0.007,-0.009,0.005,0.002,-0.004,0.009,
  0.001,-0.007,0.006,0.012,-0.002,0.004,-0.005,0.008,0.003,-0.010,
  0.005,0.000,0.009,-0.004,0.014,0.006,-0.001,0.003,0.017,-0.006,
  0.002,0.008,-0.008,0.004,0.010,-0.003,0.006,0.001,-0.005,0.007,
  -0.002,0.005,0.011,-0.006,0.003,0.009,0.000,-0.004,0.007,0.002,
  0.006,-0.003,0.008,0.004,-0.005,
  0.005,-0.004,0.009,0.001,-0.007,0.006,0.012,-0.002,0.017,0.003,
  -0.006,0.007,0.002,-0.003,0.010,0.000,-0.009,0.005,0.008,-0.001,
  0.004,0.014,-0.005,0.006,0.002,-0.008,0.009,0.003,-0.003,0.007,
  0.001,-0.006,0.010,0.004,-0.002,0.008,-0.010,0.005,0.000,0.006,
  -0.004,0.009,0.002,-0.007,0.005,0.011,-0.001,0.004,-0.008,0.003,
  0.007,-0.003,0.006,0.001,-0.006,0.010,0.003,-0.002,0.005
];

// light-curve model and zero line
const modelPhase = [-0.1, -0.0155, 0, 0.0165, 0.05, 0.09, 0.12, 0.15, 0.18, 0.208, 0.2235, 0.240, 0.6, 0.9845, 1.0, 1.0165, 1.05, 1.1];
const modelFlux  = [1, 1, 0.74, 1, 1.0012, 1.0024, 1.0027, 1.0022, 1.0012, 1, 0.787, 1, 1, 1, 0.74, 1, 1.0012, 1.0024];
const zeroPhase = [-0.1, 1.1];
const zeroOC = [0, 0];

const xTicks = [0, 0.2, 0.4, 0.6, 0.8, 1];
const fluxTicks = [0.7, 0.8, 0.9, 1];
const ocTicks = [-0.04, -0.02, 0, 0.02, 0.04];

const RED = '#e2200c';
const SANS = "'Liberation Sans', Arial, Helvetica, sans-serif";
const SERIF = "'Liberation Serif', 'Times New Roman', serif";

Chart.defaults.color = '#000';

const pts = (xs, ys) => xs.map((p, i) => ({ x: p, y: ys[i] }));

// inward tick marks on all four sides + box frame
const frameTicks = {
  id: 'frameTicks',
  afterDatasetsDraw(chart, args, o) {
    const { ctx, chartArea: a, scales: { x, y } } = chart;
    const isMul = (v, s) => Math.abs(v / s - Math.round(v / s)) < 1e-6;
    ctx.save();
    ctx.strokeStyle = '#000';
    ctx.lineWidth = 2;
    ctx.beginPath();
    for (let k = Math.ceil(x.min / o.xMinor - 1e-6); k * o.xMinor <= x.max + 1e-9; k++) {
      const v = k * o.xMinor;
      const len = isMul(v, o.xMajor) ? o.xMajorLen : o.xMinorLen;
      const px = Math.round(x.getPixelForValue(v)) + 0.5;
      ctx.moveTo(px, a.bottom); ctx.lineTo(px, a.bottom - len);
      ctx.moveTo(px, a.top); ctx.lineTo(px, a.top + len);
    }
    for (let k = Math.ceil(y.min / o.yMinor - 1e-6); k * o.yMinor <= y.max + 1e-9; k++) {
      const v = k * o.yMinor;
      const len = isMul(v, o.yMajor) ? o.yMajorLen : o.yMinorLen;
      const py = Math.round(y.getPixelForValue(v)) + 0.5;
      ctx.moveTo(a.left, py); ctx.lineTo(a.left + len, py);
      ctx.moveTo(a.right, py); ctx.lineTo(a.right - len, py);
    }
    ctx.stroke();
    ctx.lineWidth = 3;
    ctx.strokeRect(a.left, a.top, a.right - a.left, a.bottom - a.top);
    ctx.restore();
  }
};

// text labels placed in data coordinates
const annotate = {
  id: 'annotate',
  afterDraw(chart, args, o) {
    const { ctx, scales: { x, y } } = chart;
    (o.items || []).forEach(t => {
      ctx.save();
      ctx.font = t.font;
      ctx.fillStyle = '#000';
      ctx.textAlign = 'center';
      ctx.textBaseline = 'alphabetic';
      ctx.fillText(t.text, x.getPixelForValue(t.x), y.getPixelForValue(t.y));
      ctx.restore();
    });
  }
};

const yAxis = (min, max, ticks, pad, title, titlePad) => ({
  type: 'linear', min, max,
  afterBuildTicks: s => { s.ticks = ticks.map(v => ({ value: v })); },
  afterFit: s => { s.width = 180; s.paddingTop = 0; s.paddingBottom = 0; },
  grid: { display: false, drawTicks: false },
  border: { display: false },
  ticks: { padding: pad, autoSkip: false, font: { size: 38, family: SANS }, callback: v => String(v) },
  title: { display: true, text: title, font: { size: 38, family: SANS }, padding: { top: titlePad, bottom: 0 } }
});

new Chart(document.getElementById('fluxChart'), {
  type: 'scatter',
  data: {
    datasets: [
      { data: pts(modelPhase, modelFlux), showLine: true, borderColor: '#000', borderWidth: 2.5, pointRadius: 0, order: 0 },
      { data: pts(phase, flux).concat(pts(phaseB, fluxB)), backgroundColor: RED, borderWidth: 0, pointRadius: 4.3, order: 1 }
    ]
  },
  options: {
    responsive: false, animation: false, devicePixelRatio: 1,
    layout: { padding: { top: 14, bottom: 13, left: 0, right: 8 } },
    plugins: {
      legend: { display: false }, tooltip: { enabled: false },
      frameTicks: { xMinor: 0.05, xMajor: 0.2, xMajorLen: 18, xMinorLen: 9, yMinor: 0.02, yMajor: 0.1, yMajorLen: 18, yMinorLen: 9 },
      annotate: { items: [
        { text: 'SMC-ECL-3529', x: 0.515, y: 0.667, font: 'bold 35px ' + SANS },
        { text: 'P=234.5 d', x: 0.853, y: 0.667, font: '35px ' + SERIF }
      ] }
    },
    scales: {
      x: { type: 'linear', min: -0.1, max: 1.1, display: false },
      y: yAxis(0.622, 1.05, fluxTicks, 28, 'normalized I flux', 31)
    }
  },
  plugins: [frameTicks, annotate]
});

new Chart(document.getElementById('ocChart'), {
  type: 'scatter',
  data: {
    datasets: [
      { data: pts(zeroPhase, zeroOC), showLine: true, borderColor: '#000', borderWidth: 2, pointRadius: 0, order: 0 },
      { data: pts(phase, oc).concat(pts(phaseB, ocB)), backgroundColor: RED, borderWidth: 0, pointRadius: 2.8, order: 1 }
    ]
  },
  options: {
    responsive: false, animation: false, devicePixelRatio: 1,
    layout: { padding: { top: 6, bottom: 0, left: 0, right: 8 } },
    plugins: {
      legend: { display: false }, tooltip: { enabled: false },
      frameTicks: { xMinor: 0.05, xMajor: 0.2, xMajorLen: 17, xMinorLen: 9, yMinor: 0.01, yMajor: 0.02, yMajorLen: 9, yMinorLen: 9 }
    },
    scales: {
      x: {
        type: 'linear', min: -0.1, max: 1.1,
        afterBuildTicks: s => { s.ticks = xTicks.map(v => ({ value: v })); },
        afterFit: s => { s.height = 113; s.paddingLeft = 0; s.paddingRight = 0; },
        grid: { display: false, drawTicks: false },
        border: { display: false },
        ticks: { padding: 14, autoSkip: false, maxRotation: 0, font: { size: 38, family: SANS }, callback: v => String(v) },
        title: { display: true, text: 'Orbital phase', font: { size: 38, family: SANS }, padding: { top: 0, bottom: 0 } }
      },
      y: yAxis(-0.0453, 0.0453, ocTicks, 23, 'O-C (flux)', 8)
    }
  },
  plugins: [frameTicks]
});
</script>
</body>
</html>
